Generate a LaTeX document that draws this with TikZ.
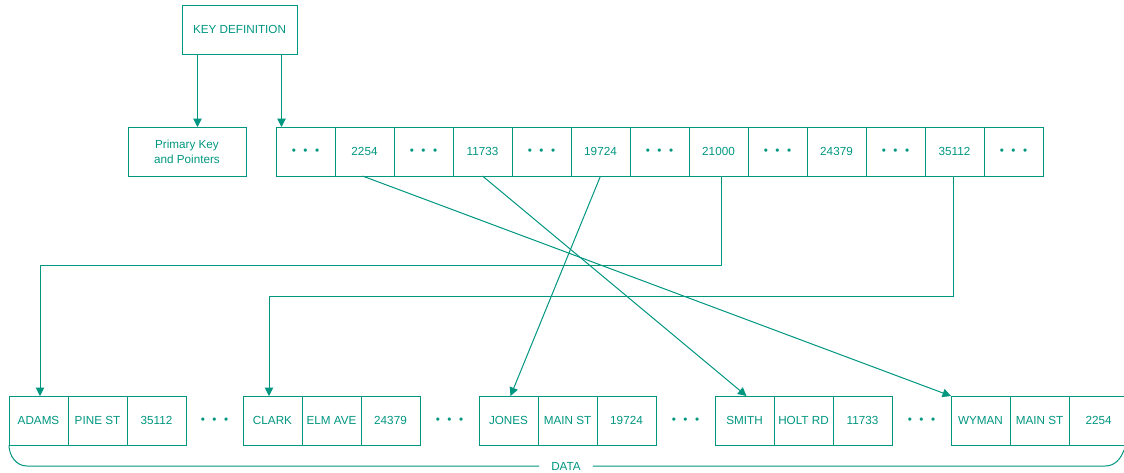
\documentclass[tikz,border=0pt]{standalone}
\usepackage{fontspec}
\setmainfont{Liberation Sans}
\usetikzlibrary{arrows.meta}
\definecolor{idxgreen}{RGB}{0,150,128}
\tikzset{
  cell/.style={draw=idxgreen, line width=1pt, minimum width=59pt, minimum height=49pt,
    inner sep=0pt, outer sep=0pt, text=idxgreen, font=\fontsize{11.7}{15}\selectfont},
  gap/.style={inner sep=0pt, text=idxgreen, font=\fontsize{11.7}{15}\selectfont},
  link/.style={draw=idxgreen, line width=1pt, -{Triangle[width=8.5pt,length=8.5pt]}},
}
\newcommand{\dotdotdot}{\textbullet\hspace{7.5pt}\textbullet\hspace{7.5pt}\textbullet}
\begin{document}
\begin{tikzpicture}[x=1pt, y=-1pt]
\useasboundingbox (0,0) rectangle (1124,472);

% Key definition
\node[cell, minimum width=115pt] (keydef) at (239.5,29.5) {KEY DEFINITION};
\node[cell, minimum width=118pt, align=center] (prim) at (187,151.5) {Primary Key\\and Pointers};

% Index
\node[cell] (i1) at (305.5,151.5) {\dotdotdot};
\node[cell] (k2254) at (364.5,151.5) {2254};
\node[cell] (i2) at (423.5,151.5) {\dotdotdot};
\node[cell] (k11733) at (482.5,151.5) {11733};
\node[cell] (i3) at (541.5,151.5) {\dotdotdot};
\node[cell] (k19724) at (600.5,151.5) {19724};
\node[cell] (i4) at (659.5,151.5) {\dotdotdot};
\node[cell] (k21000) at (718.5,151.5) {21000};
\node[cell] (i5) at (777.5,151.5) {\dotdotdot};
\node[cell] (k24379) at (836.5,151.5) {24379};
\node[cell] (i6) at (895.5,151.5) {\dotdotdot};
\node[cell] (k35112) at (954.5,151.5) {35112};
\node[cell] (i7) at (1013.5,151.5) {\dotdotdot};

% Records
\node[cell] (adams) at (38.5,420.5) {ADAMS};
\node[cell] (adamsst) at (97.5,420.5) {PINE ST};
\node[cell] (adamsno) at (156.5,420.5) {35112};
\node[gap] (d1) at (214.5,420.5) {\dotdotdot};
\node[cell] (clark) at (272.5,420.5) {CLARK};
\node[cell] (clarkst) at (331.5,420.5) {ELM AVE};
\node[cell] (clarkno) at (390.5,420.5) {24379};
\node[gap] (d2) at (449.5,420.5) {\dotdotdot};
\node[cell] (jones) at (508.5,420.5) {JONES};
\node[cell] (jonesst) at (567.5,420.5) {MAIN ST};
\node[cell] (jonesno) at (626.5,420.5) {19724};
\node[gap] (d3) at (685.5,420.5) {\dotdotdot};
\node[cell] (smith) at (744.5,420.5) {SMITH};
\node[cell] (smithst) at (803.5,420.5) {HOLT RD};
\node[cell] (smithno) at (862.5,420.5) {11733};
\node[gap] (d4) at (921.5,420.5) {\dotdotdot};
\node[cell] (wyman) at (980.5,420.5) {WYMAN};
\node[cell] (wymanst) at (1039.5,420.5) {MAIN ST};
\node[cell] (wymanno) at (1098.5,420.5) {2254};

% Arrows
\draw[link] ([xshift=-42pt]keydef.south) -- ([xshift=-42pt]keydef.south |- prim.north);
\draw[link] ([xshift=42pt]keydef.south) -- ([xshift=42pt]keydef.south |- i1.north);
\draw[link] ([xshift=-2pt]k2254.south) -- (wyman.north west);
\draw[link] (k11733.south) -- ([xshift=2pt]smith.north);
\draw[link] (k19724.south) -- ([xshift=2pt]jones.north);
\draw[link] ([xshift=3pt]k21000.south) -- ++(0,89) -| ([xshift=1.5pt]adams.north);
\draw[link] ([xshift=-1.5pt]k35112.south) -- ++(0,120) -| ([xshift=-3.5pt]clark.north);

% Data brace
\node[gap] (data) at (566,466) {DATA};
\draw[idxgreen, line width=1pt] (adams.south west) to[out=-90, in=180] (27,466) -- ([xshift=-12pt]data.west);
\draw[idxgreen, line width=1pt] ([xshift=12pt]data.east) -- (1105,466) to[out=0, in=-110] (1124,450);
\end{tikzpicture}
\end{document}
